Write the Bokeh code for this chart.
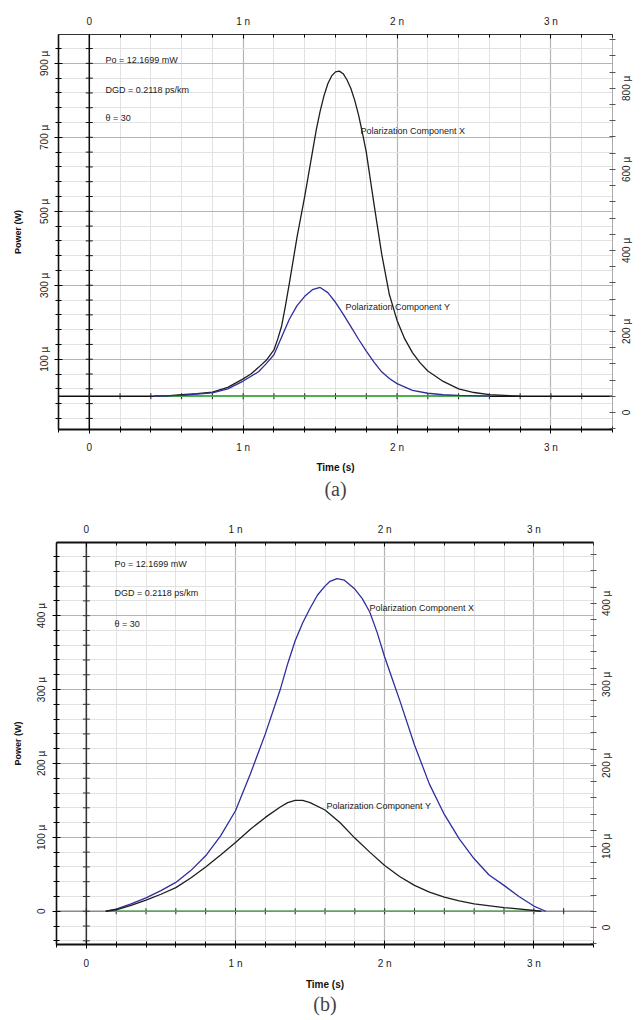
import math
from bokeh.plotting import figure
from bokeh.models import (Range1d, LinearAxis, FixedTicker, CustomJSTickFormatter,
                          Span, Label, Title)
from bokeh.layouts import column
from bokeh.embed import file_html
from bokeh.resources import INLINE

# ---------------- data: panel (a)  (time in ns, power in µW) ----------------
a_x_time = [0.42, 0.5, 0.6, 0.7, 0.8, 0.9, 1.0, 1.05, 1.1, 1.15, 1.2, 1.225, 1.25, 1.275,
            1.3, 1.35, 1.4, 1.45, 1.475, 1.5, 1.525, 1.55, 1.575, 1.6, 1.625, 1.65,
            1.675, 1.7, 1.725, 1.75, 1.775, 1.8, 1.85, 1.9, 1.95,
            2.0, 2.05, 2.1, 2.15, 2.2, 2.3, 2.4, 2.5, 2.6, 2.7, 2.8]
a_x_power = [0, 1, 4, 7, 11, 24, 47, 60, 78, 97, 125, 155, 190, 245,
             305, 430, 540, 660, 720, 770, 812, 845, 866, 877, 879, 872,
             855, 832, 800, 760, 712, 660, 520, 385, 275,
             205, 155, 118, 90, 68, 40, 20, 10, 4.5, 2, 0]
a_y_time = [0.42, 0.6, 0.8, 0.9, 1.0, 1.1, 1.15, 1.2, 1.25, 1.3, 1.35, 1.4, 1.45, 1.5,
            1.55, 1.6, 1.65, 1.7, 1.75, 1.8, 1.85, 1.9, 1.95, 2.0, 2.1, 2.2, 2.3,
            2.4, 2.6]
a_y_power = [0, 2, 9, 20, 41, 66, 88, 112, 160, 208, 245, 270, 288, 294,
             280, 254, 222, 188, 154, 122, 92, 66, 48, 34, 16, 8, 4,
             2, 0]
a_g_time = [0.42, 2.6]
a_g_power = [0, 0]

# ---------------- data: panel (b) ----------------
b_x_time = [0.13, 0.2, 0.3, 0.4, 0.5, 0.6, 0.7, 0.8, 0.9, 1.0, 1.1, 1.2, 1.3, 1.35, 1.4,
            1.45, 1.5, 1.55, 1.6, 1.63, 1.68, 1.73, 1.8, 1.85, 1.9, 1.95, 2.0, 2.05,
            2.1, 2.2, 2.3, 2.4, 2.5, 2.6, 2.7, 2.8, 2.9, 3.0, 3.08]
b_x_power = [0, 3, 10, 18, 28, 39, 55, 75, 102, 136, 186, 240, 300, 335, 366,
             390, 410, 428, 440, 446, 450, 448, 436, 423, 405, 377, 344, 315,
             286, 225, 172, 131, 98, 71, 49, 35, 20, 7, 0]
b_y_time = [0.13, 0.2, 0.3, 0.4, 0.5, 0.6, 0.7, 0.8, 0.9, 1.0, 1.1, 1.2, 1.3, 1.35, 1.4,
            1.45, 1.5, 1.6, 1.7, 1.8, 1.9, 2.0, 2.1, 2.2, 2.3, 2.4, 2.5, 2.6, 2.8,
            3.0, 3.05]
b_y_power = [0, 2, 8, 15, 23, 32, 45, 60, 76, 93, 111, 127, 141, 147, 150,
             150, 147, 137, 120, 99, 80, 62, 47, 35, 26, 19, 14, 10, 5,
             1, 0]
b_g_time = [0.15, 3.05]
b_g_power = [0, 0]

# ---------------- ticks ----------------
x_major = [0, 1, 2, 3]
x_minor = [round(-0.2 + 0.2 * i, 1) for i in range(19)]
a_left_major = [100, 300, 500, 700, 900]
a_left_minor = [-60 + 40 * i for i in range(26)]
a_right_major = [0, 200, 400, 600, 800]
a_right_minor = [-40 + 40 * i for i in range(25)]
b_left_major = [0, 100, 200, 300, 400]
b_left_minor = [-40 + 20 * i for i in range(27)]
b_right_major = [0, 100, 200, 300, 400]
b_right_minor = [-20 + 20 * i for i in range(25)]

notes = ["Po = 12.1699 mW", "DGD = 0.2118 ps/km", "\u03b8 = 30"]
comp_x = "Polarization Component X"
comp_y = "Polarization Component Y"

FONT = "Liberation Sans"
BLUE = "#2e2e9e"
BLACK = "#1e1e1e"
GREEN = "#4fae4f"

# approximate advance widths (px) of Liberation Sans at 10px, used to centre the
# upward-reading right-hand tick labels on their ticks
CHAR_W = {"0": 5.56, "1": 5.56, "2": 5.56, "3": 5.56, "4": 5.56, "5": 5.56, "6": 5.56,
          "7": 5.56, "8": 5.56, "9": 5.56, " ": 2.78, "\u00b5": 5.76}


def xfmt():
    return CustomJSTickFormatter(code="return tick == 0 ? '0' : tick.toFixed(0) + ' n';")


def yfmt():
    return CustomJSTickFormatter(code="return tick == 0 ? '0' : tick.toFixed(0) + ' \u00b5';")


def ylabel(v):
    return "0" if v == 0 else f"{v} \u00b5"


def style_axis(ax, size="10px"):
    ax.major_label_text_font = FONT
    ax.major_label_text_font_size = size
    ax.major_label_text_color = "#222222"
    ax.axis_label_text_font = FONT
    ax.axis_label_text_font_style = "bold"
    ax.axis_label_text_color = "#111111"


def make_panel(height, borders, yr, yr_r, left_t, right_t, lines, green, zero_color,
               vline_color, top_width, texts, tag, std):
    bl, br, bt, bb = borders
    p = figure(width=642, height=height, x_range=Range1d(-0.2, 3.4), y_range=Range1d(*yr),
               output_backend="svg", toolbar_location=None, title=None,
               min_border_left=bl, min_border_right=br, min_border_top=bt,
               min_border_bottom=bb)
    if "frame_align" in p.properties():
        p.frame_align = False
    p.outline_line_color = None
    p.extra_y_ranges = {"r": Range1d(*yr_r)}
    frame_h = height - bt - bb

    # bottom axis
    xa = p.xaxis[0]
    xa.ticker = FixedTicker(ticks=x_major, minor_ticks=x_minor)
    xa.formatter = xfmt()
    style_axis(xa)
    xa.axis_label = "Time (s)"
    xa.axis_label_text_font_size = "10px"
    xa.axis_line_width = 2.2
    xa.axis_line_color = "#111111"
    xa.major_tick_in, xa.major_tick_out = 4, 4
    xa.minor_tick_in, xa.minor_tick_out = 3, 3
    xa.major_label_standoff = std["bottom"]
    xa.axis_label_standoff = std["bottom_lab"]

    # left axis
    ya = p.yaxis[0]
    ya.ticker = FixedTicker(ticks=left_t[0], minor_ticks=left_t[1])
    ya.formatter = yfmt()
    style_axis(ya)
    ya.axis_label = "Power (W)"
    ya.axis_label_text_font_size = "9px"
    ya.major_label_orientation = "vertical"
    ya.axis_line_width = 1.6
    ya.axis_line_color = "#111111"
    ya.major_tick_in, ya.major_tick_out = 4, 4
    ya.minor_tick_in, ya.minor_tick_out = 3, 3
    ya.major_label_standoff = std["left"]
    ya.axis_label_standoff = std["left_lab"]

    # top axis
    ta = LinearAxis(ticker=FixedTicker(ticks=x_major, minor_ticks=x_minor), formatter=xfmt())
    style_axis(ta)
    ta.axis_line_width = top_width
    ta.axis_line_color = "#333333" if top_width < 2 else "#111111"
    ta.major_tick_in, ta.major_tick_out = 4, 0
    ta.minor_tick_in, ta.minor_tick_out = 3, 0
    ta.major_label_standoff = std["top"]
    p.add_layout(ta, "above")

    # right axis: upward-reading labels, anchored at their start, so the label
    # anchors are moved down by half a label length to centre each on its tick
    px_per_unit = frame_h / (yr_r[1] - yr_r[0])
    r_labels = [ylabel(v) for v in right_t[0]]
    r_anchor = [v - 0.5 * sum(CHAR_W.get(c, 5.56) for c in s) / px_per_unit
                for v, s in zip(right_t[0], r_labels)]
    ra = LinearAxis(y_range_name="r",
                    ticker=FixedTicker(ticks=r_anchor,
                                       minor_ticks=sorted(set(right_t[1]) | set(right_t[0]))),
                    formatter=CustomJSTickFormatter(args=dict(labels=r_labels),
                                                    code="return labels[index];"))
    style_axis(ra)
    ra.major_label_orientation = math.pi / 2
    ra.axis_line_color = "#555555"
    ra.axis_line_dash = "1 1"
    ra.major_tick_in, ra.major_tick_out = 0, 0
    ra.major_tick_line_color = None
    ra.minor_tick_in, ra.minor_tick_out = 3, 3
    ra.minor_tick_line_color = "#555555"
    ra.major_label_standoff = std["right"]
    p.add_layout(ra, "right")

    # grids
    p.xgrid.ticker = FixedTicker(ticks=x_major, minor_ticks=x_minor)
    p.ygrid.ticker = FixedTicker(ticks=left_t[0], minor_ticks=left_t[1])
    for g in (p.xgrid[0], p.ygrid[0]):
        g.grid_line_color = "#b4b4b4"
        g.grid_line_width = 1.2
        g.minor_grid_line_color = "#e2e2e2"

    # crosshair through the origin
    p.add_layout(Span(location=0, dimension="height", line_color=vline_color,
                      line_width=1.5, level="underlay"))
    p.add_layout(Span(location=0, dimension="width", line_color=zero_color,
                      line_width=1.4, level="underlay"))
    ylo, yhi = yr
    ty = [v for v in left_t[1] if ylo < v < yhi]
    p.scatter([0] * len(ty), ty, marker="dash", size=7, line_color=vline_color, line_width=1)
    tx = [v for v in x_minor if -0.2 < v < 3.4]
    p.scatter(tx, [0] * len(tx), marker="dash", angle=math.pi / 2, size=6,
              line_color="#222222", line_width=1)

    # signals
    p.line(green[0], green[1], line_color=GREEN, line_width=1.6)
    for t, pw, c in lines:
        p.line(t, pw, line_color=c, line_width=1.3, line_join="round")

    # annotations
    for (x, y, s) in texts:
        p.add_layout(Label(x=x, y=y, text=s, text_font=FONT, text_font_size="9px",
                           text_baseline="middle", text_align="left", text_color="#1a1a1a"))

    p.add_layout(Title(text=tag, align="center", text_font="Liberation Serif",
                       text_font_size="20px", text_font_style="normal",
                       standoff=std["title"]), "below")
    return p


pa = make_panel(
    508, (58, 30, 34, 79), (-90, 978), (-42, 933),
    (a_left_major, a_left_minor), (a_right_major, a_right_minor),
    [(a_x_time, a_x_power, BLACK), (a_y_time, a_y_power, BLUE)],
    (a_g_time, a_g_power), "#111111", "#111111", 1,
    [(0.105, 910, notes[0]), (0.105, 829, notes[1]), (0.105, 751, notes[2]),
     (1.762, 716, comp_x), (1.665, 240, comp_y)],
    "(a)",
    dict(bottom=8, bottom_lab=6, left=4, left_lab=14, top=8, right=11, title=1))

pb = make_panel(
    512, (56, 49, 34, 76), (-45, 499), (-21, 475),
    (b_left_major, b_left_minor), (b_right_major, b_right_minor),
    [(b_x_time, b_x_power, BLUE), (b_y_time, b_y_power, BLACK)],
    (b_g_time, b_g_power), "#8a8a8a", "#333333", 2.2,
    [(0.189, 470, notes[0]), (0.189, 430, notes[1]), (0.189, 389, notes[2]),
     (1.898, 411, comp_x), (1.61, 143, comp_y)],
    "(b)",
    dict(bottom=9, bottom_lab=7, left=5, left_lab=11, top=8, right=10, title=-4))

layout = column(pa, pb, spacing=0)
open("out.html", "w").write(file_html(layout, INLINE))
